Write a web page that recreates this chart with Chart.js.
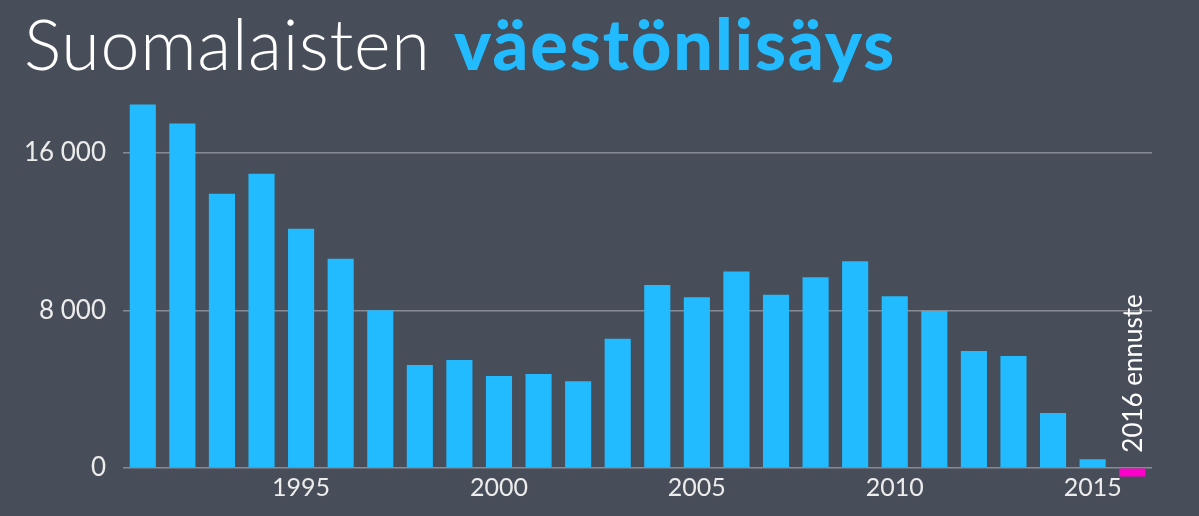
<!DOCTYPE html>
<html>
<head>
<meta charset="utf-8">
<script src="https://cdn.jsdelivr.net/npm/chart.js@4"></script>
<style>
    html, body { margin: 0; padding: 0; background: #474d59; }
    #wrap { position: relative; width: 1199px; height: 516px; }
    #title { position: absolute; left: 24px; top: 1px; font-family: Lato, sans-serif; font-size: 70px;
             color: #ffffff; font-weight: 300; white-space: nowrap; letter-spacing: 0.7px; }
    #title b { color: #22bbff; font-weight: 900; letter-spacing: 2px; margin-left: 4px; }
    canvas { position: absolute; left: 0; top: 0; }
</style>
</head>
<body>
<div id="wrap">
    <canvas id="ctx" width="1199" height="516"></canvas>
    <div id="title">Suomalaisten <b>väestönlisäys</b></div>
</div>
<script>
// vuodet ja väestönlisäys (luettu kuvasta)
var years = ['1991','1992','1993','1994','1995','1996','1997','1998','1999','2000',
             '2001','2002','2003','2004','2005','2006','2007','2008','2009','2010',
             '2011','2012','2013','2014','2015','2016']
var growth = [18470, 17500, 13930, 14940, 12150, 10620, 8010, 5220, 5470, 4660,
              4760, 4390, 6560, 9290, 8660, 9980, 8790, 9680, 10490, 8710,
              7960, 5930, 5680, 2780, 430, -450]
var yTicks = [0, 8000, 16000]
var forecastLabel = '2016 ennuste'

var barColors = years.map(function(y) { return y === '2016' ? '#ff00cc' : '#22bbff' })

var forecastText = {
    id: 'forecastText',
    afterDatasetsDraw: function(chart) {
        var c = chart.ctx
        var x = chart.scales.x.getPixelForValue(years.length - 1)
        var y = chart.scales.y.getPixelForValue(0)
        c.save()
        c.translate(x + 1, y - 15)
        c.rotate(-Math.PI / 2)
        c.fillStyle = '#ffffff'
        c.font = '26px Lato'
        c.textAlign = 'left'
        c.textBaseline = 'middle'
        c.fillText(forecastLabel, 0, 0)
        c.restore()
    }
}

new Chart(document.getElementById('ctx'), {
    type: 'bar',
    data: {
        labels: years,
        datasets: [{
            data: growth,
            backgroundColor: barColors,
            borderWidth: 0,
            barPercentage: 0.66,
            categoryPercentage: 1
        }]
    },
    options: {
        responsive: false,
        animation: false,
        layout: { padding: { top: 94, right: 47, bottom: 0, left: 0 } },
        plugins: { legend: { display: false }, tooltip: { enabled: false } },
        scales: {
            x: {
                grid: { display: false, drawTicks: false },
                border: { display: false },
                afterFit: function(s) { s.height = 38.5 },
                ticks: {
                    autoSkip: false, maxRotation: 0, padding: -5,
                    color: '#ececec', font: { family: 'Lato', size: 25 },
                    callback: function(v, i) {
                        var y = +years[i]
                        return (y % 5 === 0 && y < 2016) ? years[i] : ''
                    }
                }
            },
            y: {
                min: -500, max: 19000,
                afterFit: function(s) { s.width = 123 },
                afterBuildTicks: function(s) {
                    s.ticks = yTicks.map(function(v) { return { value: v } })
                },
                border: { display: false },
                grid: { color: '#878b94', lineWidth: 1.5, drawTicks: false },
                ticks: {
                    padding: 17, color: '#ececec', font: { family: 'Lato', size: 26 },
                    callback: function(v) { return v.toLocaleString('fi-FI').replace(/\s/g, ' ') }
                }
            }
        }
    },
    plugins: [forecastText]
});
</script>
</body>
</html>
